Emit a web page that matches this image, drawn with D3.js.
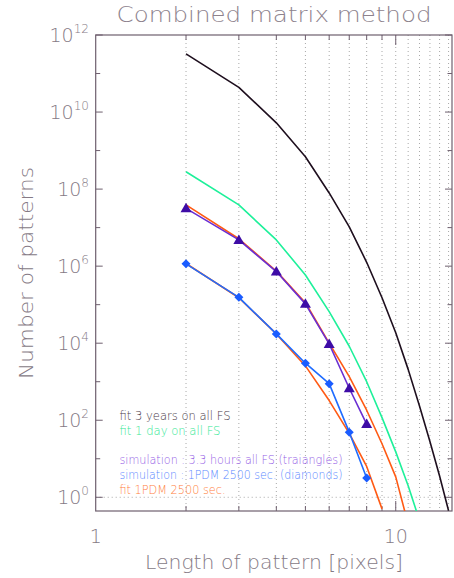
<!DOCTYPE html>
<html><head><meta charset="utf-8">
<script src="https://cdn.jsdelivr.net/npm/d3@7"></script>
<style>body{margin:0;background:#fff}svg{display:block}text{font-family:"DejaVu Sans",sans-serif;font-weight:200}</style>
</head><body>
<script>
// ---- data ----
const fitX3y   = [2,3,4,5,6,7,8,9,10,11,12,13,14,15];
const fit3years = [3.24e11,4.37e10,5.25e9,6.92e8,7.94e7,1.05e7,1.26e6,1.51e5,1.86e4,2.09e3,234,28.2,3.55,0.447];
const fitX1d   = [2,3,4,5,6,7,8,9,10,11,12];
const fit1day  = [2.82e8,3.89e7,4.79e6,5.89e5,6.61e4,8.32e3,1.0e3,117,15.1,2.0,0.25];
const fitXhrs  = [2,3,4,5,6,7,8,9,10,11];
const fitHours = [3.89e7,5.13e6,7.41e5,1.12e5,1.0e4,1.35e3,182,24.5,3.39,0.2];
const simX     = [2,3,4,5,6,7,8];
const simHours = [3.16e7,4.79e6,7.24e5,1.05e5,9.55e3,676,79.4];
const simPDM   = [1.15e6,1.55e5,1.74e4,3.02e3,891,49,3.16];
const fitXpdm  = [2,3,4,5,6,7,8,9];
const fitPDM   = [1.17e6,1.51e5,1.74e4,2.57e3,324,45.7,6.31,0.5];
const xTickLabels = ["1","10"];
const yTickExps = [0,2,4,6,8,10,12];
const legendTexts = ["fit 3 years on all FS","fit 1 day on all FS","simulation : 3.3 hours all FS (traiangles)","simulation : 1PDM 2500 sec. (diamonds)","fit 1PDM 2500 sec."];

// ---- layout ----
const W=454,H=578, L=95.7, R=452, T=35, B=511;
const axisCol="#6e5f6e", textCol="#857a85";
const svg=d3.select("body").append("svg").attr("width",W).attr("height",H);
const x=d3.scaleLog().domain([1,Math.pow(10,1.1875)]).range([L,R]);
const y=d3.scaleLog().domain([Math.pow(10,-0.356),1e12]).range([B,T]);

svg.append("defs").append("clipPath").attr("id","clip").append("rect")
  .attr("x",L).attr("y",T).attr("width",R-L).attr("height",B-T);

// grid: dotted verticals
const gridX=d3.range(2,16);
svg.append("g").selectAll("line").data(gridX).join("line")
  .attr("x1",d=>x(d)).attr("x2",d=>x(d)).attr("y1",T).attr("y2",B)
  .attr("stroke","#a8a8a8").attr("stroke-width",1).attr("stroke-dasharray","1,3");
svg.append("line").attr("x1",L).attr("x2",R).attr("y1",y(1)).attr("y2",y(1))
  .attr("stroke","#a8a8a8").attr("stroke-dasharray","1,3");

// frame
svg.append("rect").attr("x",L).attr("y",T).attr("width",R-L).attr("height",B-T)
  .attr("fill","none").attr("stroke",axisCol).attr("stroke-width",1.2);

// x ticks (bottom and top)
const xt=d3.range(2,11);
const gx=svg.append("g").attr("stroke",axisCol).attr("stroke-width",1);
xt.forEach(d=>{
  const len=d===10?10:5;
  gx.append("line").attr("x1",x(d)).attr("x2",x(d)).attr("y1",B).attr("y2",B-len);
  gx.append("line").attr("x1",x(d)).attr("x2",x(d)).attr("y1",T).attr("y2",T+len);
});
// y ticks (left and right)
d3.range(0,13).forEach(e=>{
  const len=e%2===0?7:4.5, yy=y(Math.pow(10,e));
  gx.append("line").attr("x1",L).attr("x2",L+len).attr("y1",yy).attr("y2",yy);
  gx.append("line").attr("x1",R).attr("x2",R-len).attr("y1",yy).attr("y2",yy);
});

// x tick labels
svg.append("g").selectAll("text").data([1,10]).join("text")
  .attr("x",d=>x(d)).attr("y",543).attr("text-anchor","middle")
  .attr("font-size",19).attr("fill",textCol).text((d,i)=>xTickLabels[i]);
// y tick labels 10^n
yTickExps.forEach(e=>{
  const t=svg.append("text").attr("x",89).attr("y",y(Math.pow(10,e))+7)
    .attr("text-anchor","end").attr("fill",textCol).attr("font-size",19);
  t.append("tspan").text("10");
  t.append("tspan").attr("font-size",12).attr("dy",-9).text(String(e));
});

// titles
svg.append("text").attr("x",274).attr("y",22).attr("text-anchor","middle")
  .attr("font-size",21).attr("fill","#8d828d").attr("textLength",315)
  .attr("lengthAdjust","spacingAndGlyphs").text("Combined matrix method");
svg.append("text").attr("x",274).attr("y",569).attr("text-anchor","middle")
  .attr("font-size",19).attr("fill",textCol).attr("textLength",258)
  .attr("lengthAdjust","spacingAndGlyphs").text("Length of pattern [pixels]");
svg.append("text").attr("transform","translate(33,273) rotate(-90)").attr("text-anchor","middle")
  .attr("font-size",19).attr("fill",textCol).attr("textLength",212)
  .attr("lengthAdjust","spacingAndGlyphs").text("Number of patterns");

// curves
const plot=svg.append("g").attr("clip-path","url(#clip)");
const line=d3.line().x(d=>x(d[0])).y(d=>y(d[1]));
function curve(xs,ys,col,w){
  plot.append("path").datum(xs.map((v,i)=>[v,ys[i]])).attr("d",line)
    .attr("fill","none").attr("stroke",col).attr("stroke-width",w).attr("stroke-linejoin","round");
}
curve(fitX3y,fit3years,"#1e0f1e",1.6);
curve(fitX1d,fit1day,"#1ef09a",1.6);
curve(fitXhrs,fitHours,"#ff5a14",1.6);
curve(fitXpdm,fitPDM,"#ff5a14",1.6);
curve(simX,simHours,"#6a2ed2",1.6);
curve(simX,simPDM,"#1f6cff",1.6);

// markers
plot.append("g").selectAll("path").data(simX.map((v,i)=>[v,simHours[i]])).join("path")
  .attr("transform",d=>`translate(${x(d[0])},${y(d[1])})`)
  .attr("d","M0,-5.5L5.5,4L-5.5,4Z").attr("fill","#3e0ca6");
plot.append("g").selectAll("path").data(simX.map((v,i)=>[v,simPDM[i]])).join("path")
  .attr("transform",d=>`translate(${x(d[0])},${y(d[1])})`)
  .attr("d","M0,-4.5L4.5,0L0,4.5L-4.5,0Z").attr("fill","#1a5cff");

// legend texts
const legCols=["#4a3a4a","#34e896","#9560e6","#5a88ff","#ff8040"];
const legY=[420,435,464,478.5,494];
const legW=[111,101,223,223,106];
legendTexts.forEach((t,i)=>{
  svg.append("text").attr("x",119.5).attr("y",legY[i]).attr("font-size",12)
    .attr("fill",legCols[i]).attr("textLength",legW[i]).attr("lengthAdjust","spacingAndGlyphs").text(t);
});
</script>
</body></html>
